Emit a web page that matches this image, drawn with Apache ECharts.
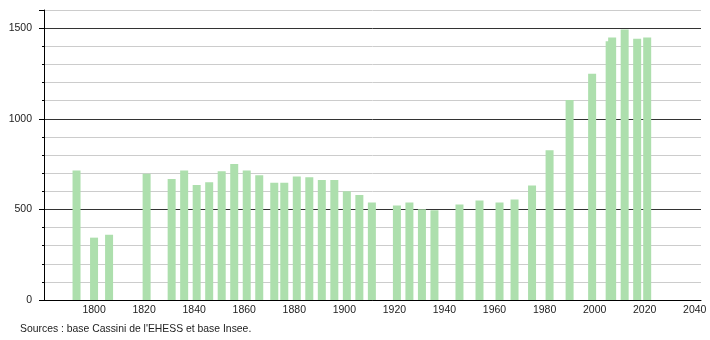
<!DOCTYPE html>
<html>
<head>
<meta charset="utf-8">
<script src="https://cdn.jsdelivr.net/npm/echarts@6/dist/echarts.min.js"></script>
<style>
  html, body { margin: 0; padding: 0; background: #fff; }
  #chart { width: 710px; height: 340px; }
</style>
</head>
<body>
<div id="chart"></div>
<script>
// census years and population
const years = [1793, 1800, 1806, 1821, 1831, 1836, 1841, 1846, 1851, 1856,
  1861, 1866, 1872, 1876, 1881, 1886, 1891, 1896, 1901, 1906,
  1911, 1921, 1926, 1931, 1936, 1946, 1954, 1962, 1968, 1975,
  1982, 1990, 1999, 2006, 2007, 2012, 2017, 2021];
const population = [715, 344, 360, 697, 667, 715, 634, 650, 710, 750,
  714, 688, 647, 647, 682, 677, 662, 662, 600, 579,
  538, 521, 538, 501, 495, 527, 549, 538, 555, 632,
  826, 1104, 1248, 1427, 1448, 1492, 1442, 1448];
const yearTicks = [1800, 1820, 1840, 1860, 1880, 1900, 1920, 1940, 1960, 1980, 2000, 2020, 2040];
const popTicks = [0, 500, 1000, 1500];

const chart = echarts.init(document.getElementById('chart'));
const font = 'Liberation Sans, Arial, sans-serif';

const option = {
  animation: false,
  grid: { left: 44, right: 9, top: 10, bottom: 40 },
  xAxis: {
    type: 'value',
    min: 1780,
    max: 2042.5,
    interval: 20,
    axisLine: { show: true, lineStyle: { color: '#000', width: 1 } },
    axisTick: { show: false },
    splitLine: { show: false },
    axisLabel: {
      color: '#222',
      fontFamily: font,
      fontSize: 10.5,
      margin: 5,
      showMaxLabel: false,
      formatter: v => (yearTicks.indexOf(v) >= 0 ? String(v) : '')
    }
  },
  yAxis: [
    {
      type: 'value',
      min: 0,
      max: 1600,
      interval: 100,
      axisLine: { show: true, lineStyle: { color: '#000', width: 1 } },
      axisTick: { show: true, length: 2, lineStyle: { color: '#000' } },
      splitLine: {
        show: true,
        lineStyle: { color: ['#333', '#ccc', '#ccc', '#ccc', '#ccc'], width: 1 }
      },
      axisLabel: {
        color: '#222',
        fontFamily: font,
        fontSize: 10.5,
        margin: 12,
        formatter: v => (popTicks.indexOf(v) >= 0 ? String(v) : '')
      }
    },
    {
      type: 'value',
      position: 'left',
      min: 0,
      max: 1600,
      interval: 500,
      axisLine: { show: false },
      axisTick: { show: true, length: 5, lineStyle: { color: '#000' } },
      splitLine: { show: false },
      axisLabel: { show: false }
    }
  ],
  series: [{
    type: 'bar',
    barWidth: 8,
    itemStyle: { color: '#addfad' },
    data: years.map((y, i) => [y, population[i]])
  }],
  graphic: [{
    type: 'text',
    left: 20,
    top: 324,
    style: {
      text: "Sources : base Cassini de l'EHESS et base Insee.",
      fill: '#222',
      font: '10.4px ' + font
    }
  }]
};

chart.setOption(option);
</script>
</body>
</html>
